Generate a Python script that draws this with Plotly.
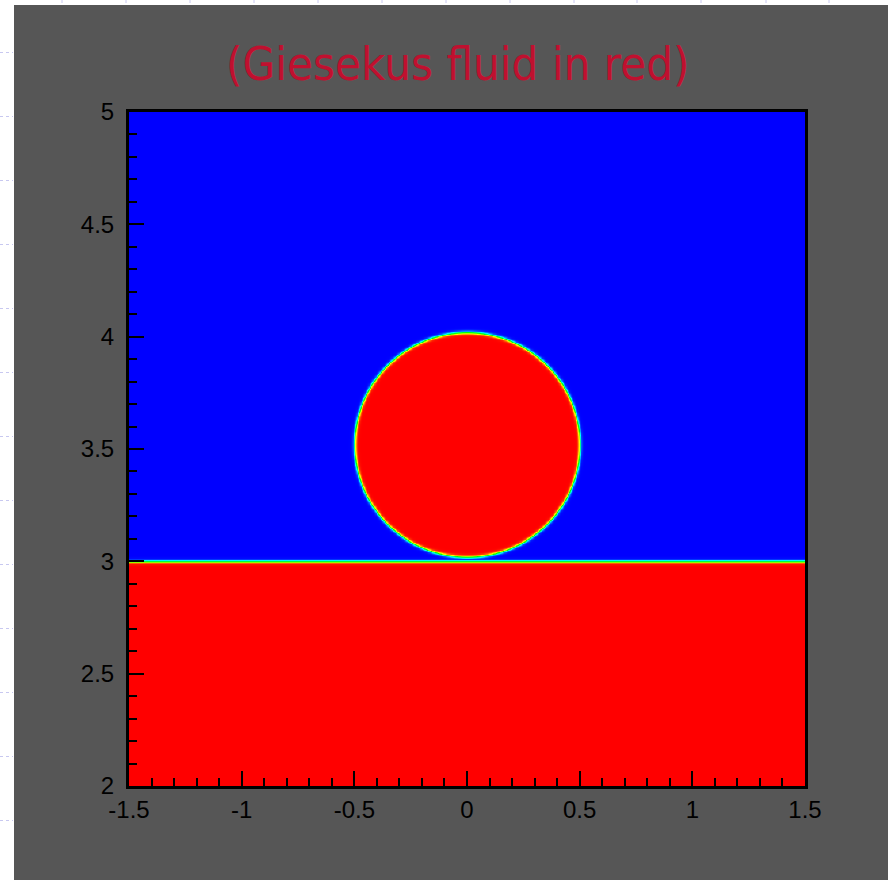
import numpy as np
import plotly.graph_objects as go

# ---- data (geometry of the two-phase field) ----
x_range = [-1.5, 1.5]
y_range = [2.0, 5.0]
x_ticks = [-1.5, -1.0, -0.5, 0.0, 0.5, 1.0, 1.5]
x_tick_labels = ["-1.5", "-1", "-0.5", "0", "0.5", "1", "1.5"]
y_ticks = [2.0, 2.5, 3.0, 3.5, 4.0, 4.5, 5.0]
y_tick_labels = ["2", "2.5", "3", "3.5", "4", "4.5", "5"]
layer_level = 3.0          # height of the flat interface
drop_center = [0.0, 3.52]  # centre of the drop
drop_radius = 0.5
interface_eps = 0.007      # thickness of the diffuse interface
title_text = "(Giesekus fluid in red)"

W, H = 888, 880
L, R, T, B = 129, 83, 112, 94
pw, ph = W - L - R, H - T - B

nx, ny = 500, 500
xs = np.linspace(x_range[0], x_range[1], nx)
ys = np.linspace(y_range[0], y_range[1], ny)
X, Y = np.meshgrid(xs, ys)
d_layer = layer_level - Y
d_drop = drop_radius - np.sqrt((X - drop_center[0]) ** 2 + (Y - drop_center[1]) ** 2)
phi_layer = 0.5 * (1 + np.tanh(d_layer / interface_eps))
phi_drop = 0.5 * (1 + np.tanh(d_drop / interface_eps))
Z = np.round(np.maximum(phi_layer, phi_drop), 3)

colorscale = [[0.0, "#0000ff"], [0.25, "#00ffff"], [0.5, "#00ff00"],
              [0.75, "#ffff00"], [1.0, "#ff0000"]]

fig = go.Figure(go.Heatmap(x=xs, y=ys, z=Z, colorscale=colorscale, zmin=0, zmax=1,
                           showscale=False, zsmooth="best", hoverinfo="skip"))

def px2px(x):
    return (x - L) / pw

def py2py(y):
    return (H - B - y) / ph

shapes = [dict(type="rect", xref="paper", yref="paper", layer="below",
               x0=px2px(14), x1=px2px(W + 5), y0=py2py(H + 5), y1=py2py(5),
               fillcolor="#565656", line=dict(width=0))]
# faint slide grid in the white margin
for yy in [52.5, 116.5, 180.5, 244.5, 308.5, 372.5, 436.5, 500.5, 564.5, 628.5, 692.5, 756.5, 820.5]:
    shapes.append(dict(type="line", xref="paper", yref="paper", layer="below",
                       x0=px2px(0), x1=px2px(13), y0=py2py(yy), y1=py2py(yy),
                       line=dict(color="#c8c8f0", width=1, dash="dot")))
for xx in [62, 126, 190, 254, 318, 382, 446, 510, 574, 637, 701, 766, 829]:
    shapes.append(dict(type="line", xref="paper", yref="paper", layer="below",
                       x0=px2px(xx), x1=px2px(xx), y0=py2py(0), y1=py2py(4),
                       line=dict(color="#c8c8f0", width=1, dash="dot")))

axis_common = dict(showgrid=False, zeroline=False, ticks="inside", ticklen=15, tickwidth=2,
                   tickcolor="black", showline=True, linecolor="black", linewidth=3,
                   mirror=True, tickfont=dict(family="Liberation Sans", size=24, color="black"))

fig.update_layout(
    width=W, height=H,
    margin=dict(l=L, r=R, t=T, b=B, pad=0),
    paper_bgcolor="white", plot_bgcolor="rgba(0,0,0,0)",
    shapes=shapes,
    xaxis=dict(range=x_range, tickvals=x_ticks, ticktext=x_tick_labels, ticklabelstandoff=0,
               minor=dict(dtick=0.1, ticks="inside", ticklen=8, tickwidth=1.5, tickcolor="black"),
               **axis_common),
    yaxis=dict(range=y_range, tickvals=y_ticks, ticktext=y_tick_labels, ticklabelstandoff=7,
               minor=dict(dtick=0.1, ticks="inside", ticklen=8, tickwidth=1.5, tickcolor="black"),
               **axis_common),
    annotations=[dict(text=title_text, xref="paper", yref="paper",
                      x=px2px(458), y=py2py(63), xanchor="center", yanchor="middle",
                      showarrow=False,
                      font=dict(family="DejaVu Sans Condensed", size=47, color="#c0102f"))],
)

fig.write_html("out.html")
